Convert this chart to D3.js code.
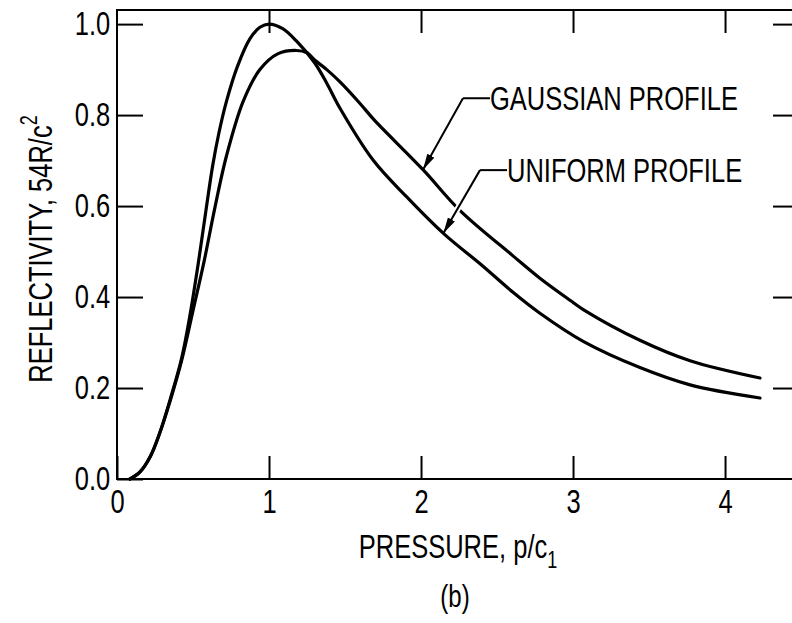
<!DOCTYPE html>
<html>
<head>
<meta charset="utf-8">
<script src="https://cdn.jsdelivr.net/npm/d3@7"></script>
<style>
  body { margin: 0; background: #fff; }
  svg { display: block; }
  text { font-family: "Liberation Sans", Arial, sans-serif; fill: #000; }
</style>
</head>
<body>
<svg id="chart" width="792" height="623"></svg>
<script>
// uniform profile (sharper peak at p/c1 = 1)
const uniformP = [0.085, 0.15, 0.22, 0.28, 0.35, 0.425, 0.48, 0.535, 0.585, 0.63, 0.67, 0.72, 0.79, 0.875, 0.94, 1.0,
                  1.09, 1.18, 1.30, 1.38, 1.467, 1.687, 1.906, 2.147, 2.4, 2.607, 2.78, 3.07, 3.44, 3.77, 4.23];
const uniformR = [0, 0.015, 0.05, 0.10, 0.175, 0.265, 0.36, 0.475, 0.59, 0.69, 0.76, 0.83, 0.905, 0.968, 0.993, 1.0,
                  0.99, 0.963, 0.915, 0.87, 0.815, 0.70, 0.62, 0.54, 0.47, 0.41, 0.365, 0.302, 0.245, 0.207, 0.178];

// gaussian profile (lower, broader peak)
const gaussP = [0.085, 0.15, 0.22, 0.28, 0.35, 0.425, 0.5, 0.574, 0.64, 0.72, 0.83, 0.94, 1.06, 1.18, 1.25,
                1.30, 1.38, 1.467, 1.6, 1.69, 2.013, 2.257, 2.607, 2.78, 2.98, 3.07, 3.44, 3.77, 4.23];
const gaussR = [0, 0.015, 0.05, 0.10, 0.172, 0.26, 0.37, 0.48, 0.59, 0.71, 0.83, 0.90, 0.935, 0.942, 0.937,
                0.921, 0.90, 0.873, 0.825, 0.79, 0.68, 0.59, 0.49, 0.442, 0.393, 0.372, 0.305, 0.26, 0.222];

const xTicks = [0, 1, 2, 3, 4];
const yTicks = [0, 0.2, 0.4, 0.6, 0.8, 1.0];

// labels with leader arrows: elbow (p, R) and arrow tip (p, R)
const annotText = ["GAUSSIAN PROFILE", "UNIFORM PROFILE"];
const annotElbowP = [2.276, 2.388];
const annotElbowR = [0.837, 0.679];
const annotTipP = [2.013, 2.147];
const annotTipR = [0.68, 0.54];

const svg = d3.select("#chart");
const mLeft = 117, mRight = 798, mTop = 10, mBottom = 479;
const squeeze = "scale(0.75,1)"; // condensed look of the original lettering

const x = d3.scaleLinear().domain([0, 4.48]).range([mLeft, mRight]);
const y = d3.scaleLinear().domain([0, 1.031]).range([mBottom, mTop]);

// frame
svg.append("path")
    .attr("d", `M${mRight},${mTop}H${mLeft}V${mBottom}H${mRight}`)
    .attr("fill", "none")
    .attr("stroke", "#000")
    .attr("stroke-width", 2);

// left axis
const yAxis = svg.append("g")
    .attr("transform", `translate(${mLeft},0)`)
    .call(d3.axisLeft(y).tickValues(yTicks).tickFormat(d3.format(".1f"))
        .tickSize(-26).tickSizeOuter(0).tickPadding(9));
// bottom axis
const xAxis = svg.append("g")
    .attr("transform", `translate(0,${mBottom})`)
    .call(d3.axisBottom(x).tickValues(xTicks).tickFormat(d3.format("d"))
        .tickSize(-23).tickSizeOuter(0).tickPadding(10));
// top + right (no labels)
const topAxis = svg.append("g")
    .attr("transform", `translate(0,${mTop})`)
    .call(d3.axisTop(x).tickValues(xTicks.slice(1)).tickFormat("").tickSize(-23).tickSizeOuter(0));
const rightAxis = svg.append("g")
    .attr("transform", `translate(${mRight},0)`)
    .call(d3.axisRight(y).tickValues(yTicks.slice(1)).tickFormat("").tickSize(-25).tickSizeOuter(0));

[yAxis, xAxis, topAxis, rightAxis].forEach(g => {
    g.select(".domain").remove();
    g.selectAll(".tick line").attr("stroke", "#000").attr("stroke-width", 2);
    g.selectAll(".tick text")
        .style("font-size", "34px")
        .style("font-family", "'Liberation Sans', Arial, sans-serif")
        .attr("fill", "#000")
        .attr("transform", squeeze);
});

// curves
const line = d3.line()
    .x(d => x(d[0]))
    .y(d => y(d[1]))
    .curve(d3.curveCatmullRom.alpha(0.5));

const series = [
    d3.zip(uniformP, uniformR),
    d3.zip(gaussP, gaussR)
];

svg.selectAll(".curve")
    .data(series)
    .enter()
    .append("path")
    .attr("class", "curve")
    .attr("d", line)
    .attr("fill", "none")
    .attr("stroke", "#000")
    .attr("stroke-width", 3.2)
    .attr("stroke-linejoin", "round")
    .attr("stroke-linecap", "round");

// arrow marker
svg.append("defs").append("marker")
    .attr("id", "head")
    .attr("viewBox", "0 0 16 8")
    .attr("refX", 16).attr("refY", 4)
    .attr("markerWidth", 16).attr("markerHeight", 8)
    .attr("markerUnits", "userSpaceOnUse")
    .attr("orient", "auto")
    .append("path")
    .attr("d", "M0,0L16,4L0,8Z")
    .attr("fill", "#000");

const annots = d3.range(annotText.length).map(i => ({
    text: annotText[i],
    ex: x(annotElbowP[i]), ey: y(annotElbowR[i]),
    tx: x(annotTipP[i]), ty: y(annotTipR[i])
}));

const ann = svg.selectAll(".annot").data(annots).enter().append("g").attr("class", "annot");

// white halo where the leader crosses the other curve
ann.append("line")
    .attr("x1", d => d.ex).attr("y1", d => d.ey)
    .attr("x2", d => d.ex + (d.tx - d.ex) * 0.7)
    .attr("y2", d => d.ey + (d.ty - d.ey) * 0.7)
    .attr("stroke", "#fff").attr("stroke-width", 6);

ann.append("line")
    .attr("x1", d => d.ex).attr("y1", d => d.ey)
    .attr("x2", d => d.tx).attr("y2", d => d.ty)
    .attr("stroke", "#000").attr("stroke-width", 2)
    .attr("marker-end", "url(#head)");

ann.append("line")
    .attr("x1", d => d.ex).attr("y1", d => d.ey)
    .attr("x2", d => d.ex + 27).attr("y2", d => d.ey)
    .attr("stroke", "#000").attr("stroke-width", 2);

ann.append("g")
    .attr("transform", d => `translate(${d.ex + 27},${d.ey + 12}) ${squeeze}`)
    .append("text")
    .style("font-size", "34px")
    .text(d => d.text);

// axis titles
const xt = svg.append("g")
    .attr("transform", `translate(458,558) ${squeeze}`)
    .append("text")
    .attr("text-anchor", "middle")
    .style("font-size", "34px");
xt.append("tspan").text("PRESSURE, p/c");
xt.append("tspan").attr("dy", 10).style("font-size", "24px").text("1");

const yt = svg.append("g")
    .attr("transform", `translate(52,249) rotate(-90) ${squeeze}`)
    .append("text")
    .attr("text-anchor", "middle")
    .style("font-size", "34px");
yt.append("tspan").text("REFLECTIVITY, 54R/c");
yt.append("tspan").attr("dy", -15).style("font-size", "24px").text("2");

svg.append("g")
    .attr("transform", `translate(455,607) ${squeeze}`)
    .append("text")
    .attr("text-anchor", "middle")
    .style("font-size", "32px")
    .text("(b)");
</script>
</body>
</html>
